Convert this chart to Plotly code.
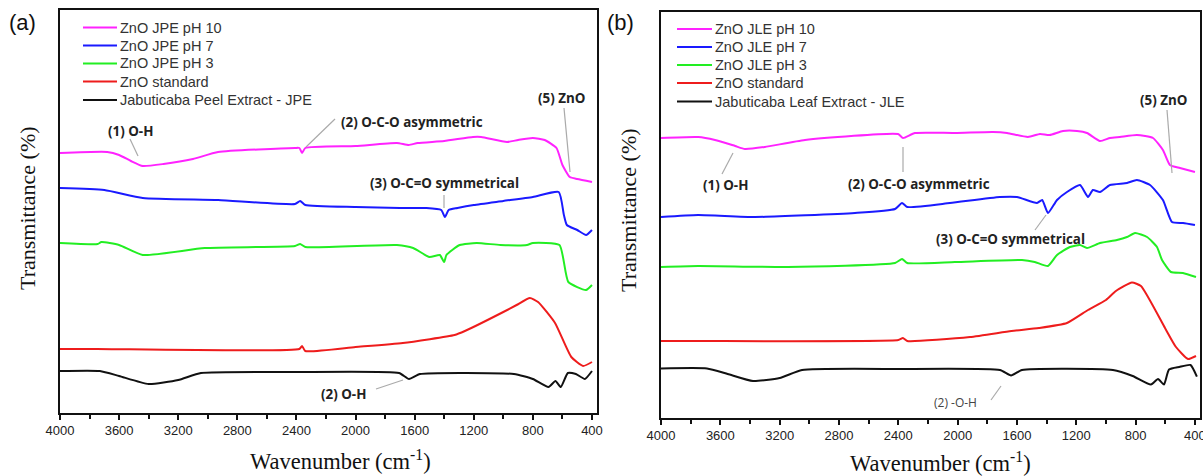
import plotly.graph_objects as go

W, H = 1203, 476

# ---------------- data (panel a: Jabuticaba Peel Extract) ----------------
a_ph10_wn = [4000, 3680, 3600, 3520, 3440, 3300, 3100, 2930, 2410, 2380, 2362, 2340, 2000, 1720, 1640, 1580, 1400, 1205, 1150, 975, 900, 800, 720, 640, 600, 550, 500, 400]
a_ph10_t = [267, 268, 265, 259, 254, 256, 261, 268, 272, 272, 267, 272, 274, 277, 275, 277, 279, 283, 283, 278, 280, 282, 280, 272, 255, 243, 241, 238]

a_ph7_wn = [4000, 3700, 3440, 2930, 2410, 2375, 2340, 2000, 1700, 1520, 1420, 1395, 1370, 1310, 1200, 1000, 800, 625, 590, 570, 500, 440, 400]
a_ph7_t = [232, 230, 222, 220, 216, 219, 215, 213, 212, 212, 210, 203, 210, 212, 215, 219, 223, 228, 205, 195, 190, 185, 190]

a_ph3_wn = [4000, 3745, 3720, 3600, 3440, 3020, 2410, 2375, 2340, 1720, 1610, 1500, 1430, 1400, 1385, 1295, 1180, 1020, 840, 800, 620, 560, 440, 400]
a_ph3_t = [177, 176, 178, 175, 165, 172, 174, 176, 173, 175, 172, 163, 165, 158, 165, 175, 177, 175, 175, 177, 175, 138, 130, 135]

a_std_wn = [4000, 3750, 2380, 2362, 2340, 2000, 1680, 1330, 1260, 1000, 910, 820, 765, 650, 540, 460, 400]
a_std_t = [71, 71, 71, 74, 69, 73, 77, 85, 89, 108, 115, 122, 118, 97, 63, 54, 58]

a_ext_wn = [4000, 3730, 3600, 3400, 3200, 3046, 2400, 1706, 1638, 1564, 928, 800, 694, 647, 611, 563, 509, 448, 400]
a_ext_t = [49, 49, 44, 36, 40, 47, 48, 47, 41, 46, 46, 41, 33, 39, 33, 47, 46, 41, 49]

# ---------------- data (panel b: Jabuticaba Leaf Extract) ----------------
b_ph10_wn = [4000, 3750, 3636, 3500, 3434, 3300, 3029, 2402, 2368, 2288, 2018, 1762, 1667, 1526, 1445, 1380, 1290, 1195, 1128, 1040, 973, 906, 791, 683, 616, 569, 501, 400]
b_ph10_t = [282, 283, 280, 274, 271, 273, 280, 286, 282, 287, 287, 288, 287, 283, 286, 285, 289, 289, 287, 279, 282, 283, 285, 282, 270, 255, 252, 248]

b_ph7_wn = [4000, 3750, 3366, 2692, 2422, 2375, 2340, 2052, 1715, 1600, 1465, 1430, 1391, 1330, 1263, 1175, 1121, 1088, 1040, 973, 858, 791, 703, 616, 555, 480, 400]
b_ph7_t = [203, 205, 203, 207, 211, 217, 213, 217, 223, 223, 217, 220, 207, 220, 228, 235, 223, 230, 228, 235, 237, 240, 235, 220, 198, 197, 195]

b_ph3_wn = [4000, 3750, 3144, 2422, 2375, 2340, 2018, 1566, 1480, 1391, 1330, 1243, 1175, 1128, 1040, 926, 858, 804, 723, 656, 622, 562, 481, 393]
b_ph3_t = [153, 154, 153, 157, 161, 157, 158, 160, 158, 154, 165, 173, 175, 172, 177, 180, 183, 187, 183, 173, 160, 148, 147, 143]

b_std_wn = [4000, 3750, 2400, 2369, 2340, 1917, 1637, 1452, 1263, 1121, 1000, 933, 825, 764, 602, 528, 447, 393]
b_std_t = [79, 79, 80, 82, 79, 83, 89, 92, 97, 110, 120, 129, 137.5, 134, 92, 73, 61, 64]

b_ext_wn = [4000, 3690, 3550, 3380, 3200, 3049, 2400, 1715, 1640, 1566, 953, 820, 697, 649, 609, 575, 506, 430, 387]
b_ext_t = [51.5, 51.5, 46, 39, 42, 50, 51, 50, 44.5, 50, 50, 44, 35.4, 41, 35.4, 50.4, 53, 55, 43.4]

names_a = ["ZnO JPE pH 10", "ZnO JPE pH 7", "ZnO JPE pH 3", "ZnO standard", "Jabuticaba Peel Extract - JPE"]
names_b = ["ZnO JLE pH 10", "ZnO JLE pH 7", "ZnO JLE pH 3", "ZnO standard", "Jabuticaba Leaf Extract - JLE"]
tick_vals = [4000, 3600, 3200, 2800, 2400, 2000, 1600, 1200, 800, 400]

colors = ["#ff22ff", "#1a1aff", "#22ee22", "#ee1c1c", "#111111"]

series_a = [(a_ph10_wn, a_ph10_t), (a_ph7_wn, a_ph7_t), (a_ph3_wn, a_ph3_t), (a_std_wn, a_std_t), (a_ext_wn, a_ext_t)]
series_b = [(b_ph10_wn, b_ph10_t), (b_ph7_wn, b_ph7_t), (b_ph3_wn, b_ph3_t), (b_std_wn, b_std_t), (b_ext_wn, b_ext_t)]

fig = go.Figure()
for (wn, t), nm, c in zip(series_a, names_a, colors):
    fig.add_trace(go.Scatter(x=wn, y=t, name=nm, mode="lines",
                             line=dict(color=c, width=2, shape="spline", smoothing=0.5),
                             xaxis="x", yaxis="y", showlegend=False))
for (wn, t), nm, c in zip(series_b, names_b, colors):
    fig.add_trace(go.Scatter(x=wn, y=t, name=nm, mode="lines",
                             line=dict(color=c, width=2, shape="spline", smoothing=0.5),
                             xaxis="x2", yaxis="y2", showlegend=False))

# pixel geometry of the two panels
A_L, A_R, A_T, A_B = 60, 597, 10, 413
B_L, B_R, B_T, B_B = 661, 1200, 12, 418
REF = 420  # T = REF - pixel_y


def px(x):
    return x / W


def py(y):
    return 1 - y / H


font_tick = dict(family="Liberation Sans, Arial", size=13, color="#222")
xax = dict(range=[4000, 366], tickvals=tick_vals, ticks="outside", ticklen=5, tickwidth=1.5,
           tickcolor="#111", showline=True, linecolor="#111", linewidth=1.5, mirror=True,
           showgrid=False, zeroline=False, tickfont=font_tick, automargin=False, ticklabeloverflow="allow",
           minor=dict(ticks="outside", dtick=200, tick0=0, ticklen=4, tickcolor="#111", tickwidth=1.5, showgrid=False))
yax = dict(showticklabels=False, ticks="", showline=True, linecolor="#111", linewidth=1.5, mirror=True,
           showgrid=False, zeroline=False, automargin=False)

fig.update_layout(
    width=W, height=H, margin=dict(l=0, r=0, t=0, b=0, autoexpand=False),
    paper_bgcolor="white", plot_bgcolor="white",
    xaxis=dict(domain=[px(A_L), px(A_R)], anchor="y", **xax),
    yaxis=dict(domain=[py(A_B), py(A_T)], anchor="x", range=[REF - A_B, REF - A_T], **yax),
    xaxis2=dict(domain=[px(B_L), px(B_R)], anchor="y2", **xax),
    yaxis2=dict(domain=[py(B_B), py(B_T)], anchor="x2", range=[REF - B_B, REF - B_T], **yax),
    showlegend=False,
)

ann = []
shapes = []


def text(x, y, s, size=12, bold=True, color="#222", family="Open Sans, Noto Sans, sans-serif", angle=0,
         xanchor="center"):
    ann.append(dict(x=px(x), y=py(y), xref="paper", yref="paper", text=(f"<b>{s}</b>" if bold else s),
                    showarrow=False, font=dict(size=size, color=color, family=family), textangle=angle,
                    xanchor=xanchor, yanchor="middle"))


def leader(x0, y0, x1, y1, color="#aaaaaa", width=1.2):
    shapes.append(dict(type="line", xref="paper", yref="paper", x0=px(x0), y0=py(y0), x1=px(x1), y1=py(y1),
                       line=dict(color=color, width=width)))


# legends (drawn per panel, entries from names/colors)
def legend(names, x_line0, x_line1, x_text, rows):
    for nm, c, yy in zip(names, colors, rows):
        leader(x_line0, yy, x_line1, yy, color=c, width=2)
        text(x_text, yy, nm, size=14.5, bold=False, color="#333", family="Liberation Sans, Arial",
             xanchor="left")


legend(names_a, 83, 117, 118, [27.5, 45.5, 63.5, 81.5, 100])
legend(names_b, 677, 712, 713, [29, 47, 65, 83, 101.5])

# panel labels
text(22, 22, "(a)", size=22, bold=False, color="#111", family="Liberation Sans, Arial")
text(620, 22, "(b)", size=22, bold=False, color="#111", family="Liberation Sans, Arial")

# axis titles
serif = "Liberation Serif, Times New Roman, serif"
text(27, 208, "Transmittance (%)", size=22, bold=False, color="#111", family=serif, angle=-90)
text(628, 210, "Transmittance (%)", size=22, bold=False, color="#111", family=serif, angle=-90)
text(340, 460, "Wavenumber (cm<sup>-1</sup>)", size=22.5, bold=False, color="#111", family=serif)
text(940, 462, "Wavenumber (cm<sup>-1</sup>)", size=22.5, bold=False, color="#111", family=serif)

# panel a annotations
AS = 13.4
text(130, 131, "(1) O-H", size=AS)
leader(130, 139, 138, 156)
text(412, 122, "(2) O-C-O asymmetric", size=AS)
leader(335, 119, 306, 147)
text(444, 183, "(3) O-C=O symmetrical", size=AS)
leader(444, 195, 444, 208)
text(561, 98, "(5) ZnO", size=AS)
leader(564, 108, 570, 172)
text(343, 394, "(2) O-H", size=AS)
leader(376, 389, 403, 380)

# panel b annotations
text(725, 185, "(1) O-H", size=AS)
leader(722, 174, 733, 153)
text(919, 184, "(2) O-C-O asymmetric", size=AS)
leader(903, 147, 903, 172)
text(1011, 239, "(3) O-C=O symmetrical", size=AS)
leader(1035, 230, 1046, 215)
text(1163, 100, "(5) ZnO", size=AS)
leader(1167, 110, 1172, 173)
text(956, 402, "(2) -O-H", size=12, bold=False, color="#444")
leader(991, 400, 1001, 386)

fig.update_layout(annotations=ann, shapes=shapes)
fig.write_html("out.html", config={"displayModeBar": False},
               post_script="document.body.style.margin='0';document.body.style.overflow='hidden';")
